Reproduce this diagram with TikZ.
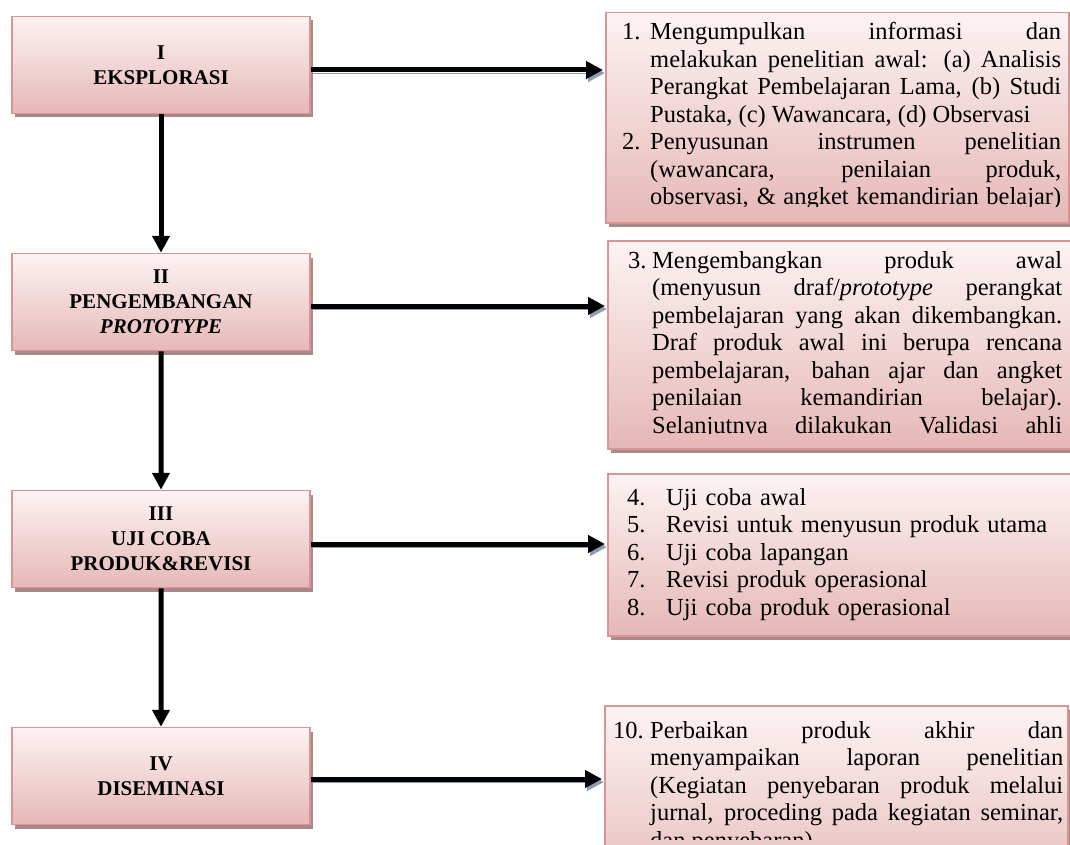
\documentclass[tikz,border=0pt]{standalone}
\usepackage{fontspec}
\setmainfont{Liberation Serif}
\usetikzlibrary{arrows.meta,shadows}

\definecolor{rimpink}{RGB}{217,149,148}
\definecolor{toppink}{RGB}{253,243,243}
\definecolor{lowpink}{RGB}{229,184,183}
\definecolor{shadepink}{RGB}{168,136,136}
\definecolor{shadeblue}{RGB}{140,156,180}

\newcommand{\numline}[3]{\noindent\hangindent=#1\hangafter=1\makebox[#1][l]{#2}#3\par}

\tikzset{panel/.style = {draw=rimpink, line width=1.5pt, top color=toppink, bottom color=lowpink,
                         drop shadow={shadow xshift=3pt, shadow yshift=-4pt, fill=shadepink, opacity=1}},
         stage/.style = {panel, minimum width=298pt, minimum height=97pt, inner sep=0pt, align=center,
                         font=\fontsize{21}{25}\selectfont\bfseries},
         notebox/.style = {panel, anchor=north west, minimum width=463pt, minimum height=#1, inner sep=0pt},
         listtext/.style = {anchor=base west, inner sep=0pt, text width=#1, align=justify,
                            font=\fontsize{24.5}{27.5}\selectfont},
         flow/.style = {line width=5pt, -{Triangle[length=17pt,width=17pt]}},
         flowlit/.style = {flow, shorten >=2pt,
                           preaction={draw=shadeblue, transform canvas={shift={(2pt,-3pt)}}}}
        }

\begin{document}
\begin{tikzpicture}[x=1pt, y=-1pt, level distance=237pt, edge from parent/.style={draw, flow}]
  \path[use as bounding box, fill=white] (0,0) rectangle (1070,845);
  \clip (0,0) rectangle (1070,845);

  \node[stage] (s1) at (161,65) {I\\EKSPLORASI}
   child {node[stage] (s2) {II\\PENGEMBANGAN\\\textit{PROTOTYPE}}
          child {node[stage] (s3) {III\\UJI COBA\\PRODUK\&REVISI}
                 child {node[stage] (s4) {IV\\DISEMINASI}}
                }
         };

  \node[notebox=210pt] (r1) at (605,12) {};
  \node[notebox=208pt] (r2) at (607,240) {};
  \node[notebox=162pt] (r3) at (607,473) {};
  \node[notebox=200pt] (r4) at (604,705) {};

  \coordinate (h1) at ([yshift=-5pt]s1.east);
  \coordinate (h2) at ([yshift=-4pt]s2.east);
  \coordinate (h3) at ([yshift=-5pt]s3.east);
  \coordinate (h4) at ([yshift=-3pt]s4.east);
  \draw[flowlit] (h1) -- (h1 -| r1.west);
  \draw[flowlit] (h2) -- (h2 -| r2.west);
  \draw[flowlit] (h3) -- (h3 -| r3.west);
  \draw[flowlit] (h4) -- (h4 -| r4.west);

  \begin{scope}
    \clip (r1.north west) rectangle ([yshift=17pt]r1.south east);
    \node[listtext=439pt] (t1) at ([xshift=17pt,yshift=-28pt]r1.north west) {%
      \numline{28pt}{1.}{Mengumpulkan informasi dan\linebreak melakukan penelitian awal: (a) Analisis\linebreak
        Perangkat Pembelajaran Lama, (b) Studi\linebreak Pustaka, (c) Wawancara, (d) Observasi}
      {\parfillskip=0pt \numline{28pt}{2.}{Penyusunan instrumen penelitian\linebreak (wawancara, penilaian produk,\linebreak
        observasi, \& angket kemandirian belajar)}}};
  \end{scope}
  \begin{scope}
    \clip (r2.north west) rectangle ([yshift=16pt]r2.south east);
    \node[listtext=434pt] (t2) at ([xshift=21pt,yshift=-28pt]r2.north west) {%
      {\parfillskip=0pt \numline{24pt}{3.}{Mengembangkan produk awal\linebreak (menyusun draf/\textit{prototype} perangkat\linebreak
        pembelajaran yang akan dikembangkan.\linebreak Draf produk awal ini berupa rencana\linebreak
        pembelajaran, bahan ajar dan angket\linebreak penilaian kemandirian belajar).\linebreak
        Selanjutnya dilakukan Validasi ahli}}};
  \end{scope}
  \node[listtext=440pt, align=left] (t3) at ([xshift=20pt,yshift=-32pt]r3.north west) {%
    \numline{39pt}{4.}{Uji coba awal}
    \numline{39pt}{5.}{Revisi untuk menyusun produk utama}
    \numline{39pt}{6.}{Uji coba lapangan}
    \numline{39pt}{7.}{Revisi produk operasional}
    \numline{39pt}{8.}{Uji coba produk operasional}};
  \begin{scope}
    \clip (r4.north west) rectangle (r4.east |- 0,839);
    \node[listtext=450pt] (t4) at ([xshift=9pt,yshift=-33pt]r4.north west) {%
      \numline{37pt}{10.}{Perbaikan produk akhir dan\linebreak menyampaikan laporan penelitian\linebreak
        (Kegiatan penyebaran produk melalui\linebreak jurnal, proceding pada kegiatan seminar,\linebreak
        dan penyebaran)}};
  \end{scope}
\end{tikzpicture}
\end{document}
